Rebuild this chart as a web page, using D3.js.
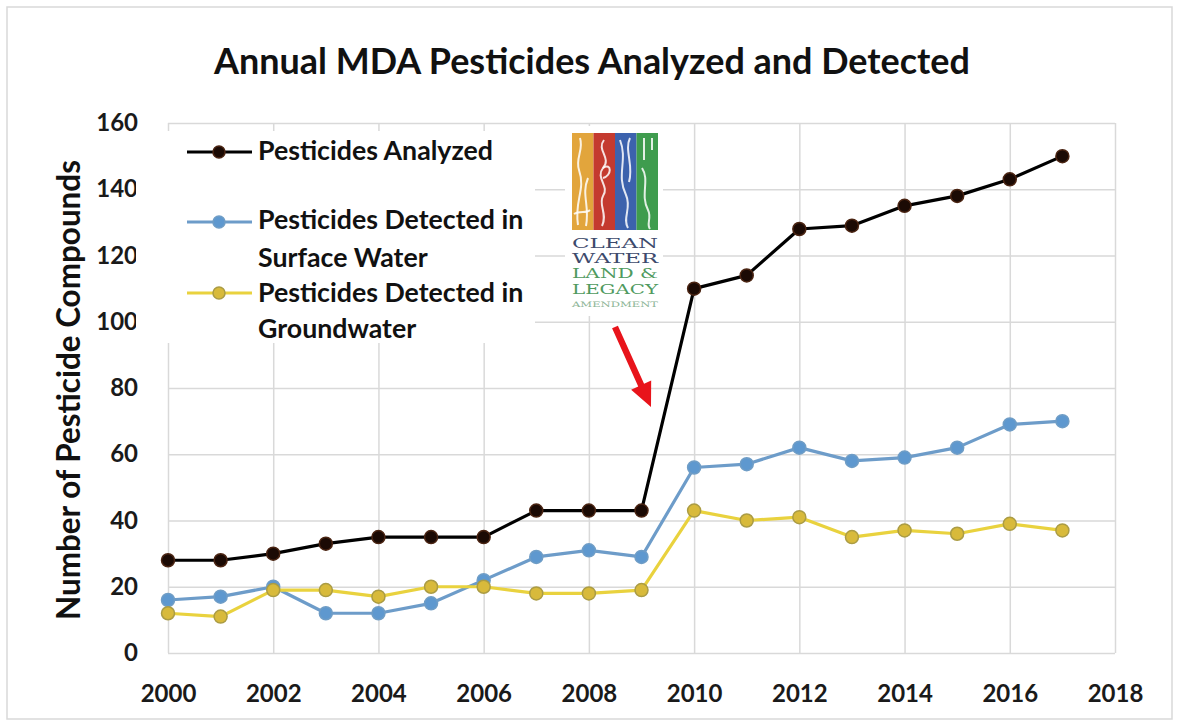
<!DOCTYPE html>
<html><head><meta charset="utf-8">
<script src="https://cdn.jsdelivr.net/npm/d3@7"></script>
<style>html,body{margin:0;padding:0;background:#fff;}svg{display:block;}</style>
</head><body>
<svg id="chart" width="1180" height="725"></svg>
<script>
// ---- data ----
const years = [2000,2001,2002,2003,2004,2005,2006,2007,2008,2009,2010,2011,2012,2013,2014,2015,2016,2017];
const analyzed = [28,28,30,33,35,35,35,43,43,43,110,114,128,129,135,138,143,150];
const surfaceWater = [16,17,20,12,12,15,22,29,31,29,56,57,62,58,59,62,69,70];
const groundwater = [12,11,19,19,17,20,20,18,18,19,43,40,41,35,37,36,39,37];
const xTicks = [2000,2002,2004,2006,2008,2010,2012,2014,2016,2018];
const yTicks = [0,20,40,60,80,100,120,140,160];
const titleText = "Annual MDA Pesticides Analyzed and Detected";
const yTitle = "Number of Pesticide Compounds";
const legendLabels = [["Pesticides Analyzed"],["Pesticides Detected in","Surface Water"],["Pesticides Detected in","Groundwater"]];
const logoLines = ["CLEAN","WATER","LAND &","LEGACY","AMENDMENT"];

const FONT = "Lato, 'Open Sans', sans-serif";
const svg = d3.select("#chart");
const L = 168, R = 1115, T = 123, B = 653;
const x = d3.scaleLinear().domain([2000,2018]).range([L,R]);
const y = d3.scaleLinear().domain([0,160]).range([B,T]);

function fit(sel, target){
  const w = sel.node().getComputedTextLength();
  const fs = parseFloat(sel.attr("font-size"));
  sel.attr("font-size", (fs*target/w).toFixed(2));
  return fs*target/w;
}

// outer frame
svg.append("rect").attr("x",7).attr("y",7).attr("width",1165).attr("height",712)
  .attr("fill","#fff").attr("stroke","#d9d9d9").attr("stroke-width",1.5);

// title
const tt = svg.append("text").attr("x",592).attr("y",74).attr("text-anchor","middle")
  .attr("font-family",FONT).attr("font-weight","bold").attr("font-size",34).attr("fill","#111").text(titleText);
fit(tt,756);

// gridlines
const grid = svg.append("g");
grid.append("g").attr("transform",`translate(${L},0)`)
  .call(d3.axisLeft(y).tickValues(yTicks).tickSize(-(R-L)).tickFormat(""))
  .call(g=>g.select(".domain").remove())
  .call(g=>g.selectAll("line").attr("stroke","#d9d9d9").attr("stroke-width",1.5));
grid.append("g").attr("transform",`translate(0,${B})`)
  .call(d3.axisBottom(x).tickValues(xTicks).tickSize(-(B-T)).tickFormat(""))
  .call(g=>g.select(".domain").remove())
  .call(g=>g.selectAll("line").attr("stroke","#d9d9d9").attr("stroke-width",1.5));

// axis labels
svg.append("g").attr("transform",`translate(${L},0)`)
  .call(d3.axisLeft(y).tickValues(yTicks).tickSize(0).tickPadding(30))
  .call(g=>g.select(".domain").remove())
  .call(g=>g.selectAll("text").attr("font-family",FONT).attr("font-weight","bold").attr("font-size",24).attr("fill","#1a1a1a"));
svg.append("g").attr("transform",`translate(0,${B})`)
  .call(d3.axisBottom(x).tickValues(xTicks).tickSize(0).tickPadding(32).tickFormat(d3.format("d")))
  .call(g=>g.select(".domain").remove())
  .call(g=>g.selectAll("text").attr("font-family",FONT).attr("font-weight","bold").attr("font-size",24).attr("fill","#1a1a1a"));

// y title
const yt = svg.append("text").attr("transform","translate(80,390) rotate(-90)").attr("text-anchor","middle")
  .attr("font-family",FONT).attr("font-weight","bold").attr("font-size",30).attr("fill","#111").text(yTitle);
fit(yt,460);

// legend background
svg.append("rect").attr("x",136).attr("y",131).attr("width",399).attr("height",212).attr("fill","#fff");

// logo
const logo = svg.append("g");
logo.append("rect").attr("x",565).attr("y",126).attr("width",98).attr("height",190).attr("fill","#fff");
const stripeColors = ["#e2a53c","#c43a2f","#3c62ad","#3f9c4e"];
const sx = [572,593.5,615,636.5];
stripeColors.forEach((c,i)=>logo.append("rect").attr("x",sx[i]).attr("y",133).attr("width",21.5).attr("height",97).attr("fill",c));
// white decorative strokes
const deco = [
  "M578,225 C574,200 586,190 579,170 C575,158 584,150 580,138",
  "M586,226 C590,205 581,195 588,178",
  "M574,214 C580,210 586,214 590,210",
  "M604,140 C596,150 612,158 603,168 C595,178 610,186 603,196 C598,205 608,214 602,226",
  "M603,168 C612,162 612,176 603,178",
  "M620,140 C628,160 616,175 626,195 C632,208 622,218 628,228",
  "M630,138 C624,150 634,165 629,182",
  "M644,138 L644,160 M652,138 L652,150 M642,168 C650,180 640,195 648,210 C652,218 646,224 650,229"
];
deco.forEach(d=>logo.append("path").attr("d",d).attr("fill","none").attr("stroke","#fff").attr("stroke-width",2).attr("stroke-opacity",0.85));
const logoBase = [248,263,278,294,307];
const logoColors = ["#3d4a6c","#3d4a6c","#4f9a5e","#4f9a5e","#8db596"];
const logoSizes = [12.5,12.5,12.5,12.5,7.5];
logoLines.forEach((t,i)=>{
  logo.append("text").attr("x",572).attr("y",logoBase[i]).attr("font-family","'DejaVu Serif','Liberation Serif',serif")
    .attr("font-size",logoSizes[i]).attr("fill",logoColors[i]).attr("textLength",86).attr("lengthAdjust","spacingAndGlyphs").text(t);
});

// red arrow
(function(){
  const x1=615,y1=327,x2=651,y2=407;
  const dx=x2-x1, dy=y2-y1, len=Math.hypot(dx,dy), ux=dx/len, uy=dy/len, px=-uy, py=ux;
  const hl=24, hw=11, sw=3.2;
  const bx=x2-ux*hl, by=y2-uy*hl;
  const pts=[[x1+px*sw,y1+py*sw],[bx+px*sw,by+py*sw],[bx+px*hw,by+py*hw],[x2,y2],[bx-px*hw,by-py*hw],[bx-px*sw,by-py*sw],[x1-px*sw,y1-py*sw]];
  svg.append("path").attr("d","M"+pts.map(p=>p.join(",")).join("L")+"Z").attr("fill","#e8141b");
})();

// series
const series = [
  {vals:analyzed, line:"#000000", fill:"#1b0a04", stroke:"#4a2412"},
  {vals:surfaceWater, line:"#6d9cc9", fill:"#5e98cf", stroke:"#6f9dc6"},
  {vals:groundwater, line:"#e9d23e", fill:"#d8ba3b", stroke:"#ab9c44"}
];
const lineGen = d3.line().x((d,i)=>x(years[i])).y(d=>y(d));
series.forEach(s=>{
  const g = svg.append("g");
  g.append("path").datum(s.vals).attr("d",lineGen).attr("fill","none").attr("stroke",s.line).attr("stroke-width",3.2).attr("stroke-linejoin","round");
  g.selectAll("circle").data(s.vals).join("circle")
    .attr("cx",(d,i)=>x(years[i])).attr("cy",d=>y(d)).attr("r",6.5)
    .attr("fill",s.fill).attr("stroke",s.stroke).attr("stroke-width",1.5);
});

// legend
const legRows = [152,222,293];
const legBase = [[160],[229,267],[302,338]];
let legFS = 24;
series.forEach((s,i)=>{
  const g = svg.append("g");
  g.append("line").attr("x1",187).attr("x2",252).attr("y1",legRows[i]).attr("y2",legRows[i]).attr("stroke",s.line).attr("stroke-width",3.2);
  g.append("circle").attr("cx",219).attr("cy",legRows[i]).attr("r",6).attr("fill",s.fill).attr("stroke",s.stroke).attr("stroke-width",1.5);
  legendLabels[i].forEach((t,j)=>{
    const tx = g.append("text").attr("class","leg").attr("x",258).attr("y",legBase[i][j])
      .attr("font-family",FONT).attr("font-weight","bold").attr("font-size",legFS).attr("fill","#111").text(t);
    if(i===0 && j===0){ legFS = fit(tx,235); }
  });
});
svg.selectAll("text.leg").attr("font-size",legFS.toFixed(2));
</script>
</body></html>
